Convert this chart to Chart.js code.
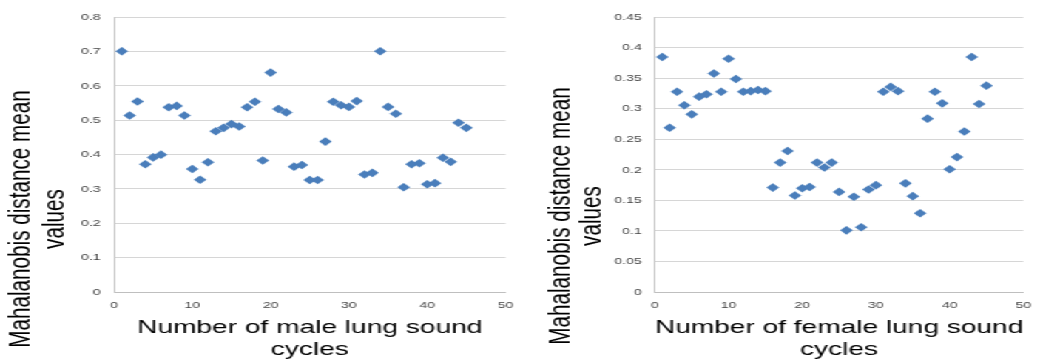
<!DOCTYPE html>
<html>
<head>
<meta charset="utf-8">
<script src="https://cdn.jsdelivr.net/npm/chart.js@4/dist/chart.umd.min.js"></script>
<style>
  html, body { margin: 0; padding: 0; background: #fff; }
  /* the reference picture is stretched sideways, so the charts are drawn narrow and stretched */
  #wrap { position: absolute; left: 0; top: 0; width: 705px; height: 363px;
          transform: scaleX(1.4794); transform-origin: 0 0; }
  #male { position: absolute; left: 0; top: 0; }
  #female { position: absolute; left: 355px; top: 0; }
</style>
</head>
<body>
<div id="wrap">
  <canvas id="male" width="355" height="363"></canvas>
  <canvas id="female" width="350" height="363"></canvas>
</div>
<script>
// data
const cycles = [1, 2, 3, 4, 5, 6, 7, 8, 9, 10, 11, 12, 13, 14, 15, 16, 17, 18, 19, 20,
    21, 22, 23, 24, 25, 26, 27, 28, 29, 30, 31, 32, 33, 34, 35, 36, 37, 38, 39, 40,
    41, 42, 43, 44, 45];

const maleValues = [0.701, 0.514, 0.555, 0.372, 0.392, 0.400, 0.538, 0.542, 0.514, 0.358,
    0.327, 0.378, 0.468, 0.478, 0.489, 0.482, 0.538, 0.554, 0.383, 0.639,
    0.533, 0.523, 0.365, 0.370, 0.326, 0.326, 0.438, 0.554, 0.544, 0.539,
    0.556, 0.342, 0.347, 0.701, 0.539, 0.519, 0.305, 0.372, 0.375, 0.314,
    0.317, 0.391, 0.379, 0.493, 0.478];

const femaleValues = [0.385, 0.269, 0.328, 0.306, 0.291, 0.320, 0.324, 0.358, 0.328, 0.382,
    0.349, 0.328, 0.329, 0.331, 0.329, 0.171, 0.212, 0.231, 0.158, 0.170,
    0.172, 0.212, 0.204, 0.212, 0.164, 0.101, 0.156, 0.106, 0.168, 0.175,
    0.328, 0.336, 0.329, 0.178, 0.157, 0.129, 0.284, 0.328, 0.309, 0.201,
    0.221, 0.263, 0.385, 0.308, 0.338];

const xTickLabels = ['0', '10', '20', '30', '40', '50'];
const maleYTicks = ['0', '0.1', '0.2', '0.3', '0.4', '0.5', '0.6', '0.7', '0.8'];
const femaleYTicks = ['0', '0.05', '0.1', '0.15', '0.2', '0.25', '0.3', '0.35', '0.4', '0.45'];

const yTitleLines = ['Mahalanobis distance mean', 'values'];
const maleXTitle = ['Number of male lung sound', 'cycles'];
const femaleXTitle = ['Number of female lung sound', 'cycles'];

const markerColor = '#4a7ebb';
const tickFont = { family: '"Liberation Sans", Arial, sans-serif', size: 9.5 };
const tickColor = '#444';

// rotated two-line y title, placed like the original (lower than the axis middle)
const yTitlePlugin = {
    id: 'yTitle',
    afterDraw(chart, args, opts) {
        const ctx = chart.ctx;
        ctx.save();
        ctx.translate(0, opts.center);
        ctx.rotate(-Math.PI / 2);
        ctx.font = '20.7px "Liberation Sans", Arial, sans-serif';
        ctx.fillStyle = '#000';
        ctx.textAlign = 'center';
        ctx.textBaseline = 'alphabetic';
        opts.lines.forEach((t, i) => ctx.fillText(t, 0, opts.baselines[i]));
        ctx.restore();
    }
};

function makeChart(id, values, yMax, yStep, yTicks, xTitle, plotLeft, padRight, titleBaselines, titleCenter) {
    return new Chart(document.getElementById(id), {
        type: 'scatter',
        data: {
            datasets: [{
                data: cycles.map((c, i) => ({ x: c, y: values[i] })),
                pointStyle: 'rectRot',
                pointRadius: 4.3,
                pointHoverRadius: 4.3,
                backgroundColor: markerColor,
                borderWidth: 0
            }]
        },
        options: {
            responsive: false,
            animation: false,
            layout: { padding: { left: 0, top: 17.3, right: padRight, bottom: 0 } },
            plugins: {
                legend: { display: false },
                tooltip: { enabled: false },
                yTitle: { lines: yTitleLines, baselines: titleBaselines, center: titleCenter }
            },
            scales: {
                x: {
                    type: 'linear',
                    min: 0,
                    max: 50,
                    ticks: {
                        stepSize: 10,
                        padding: 8,
                        maxRotation: 0,
                        font: tickFont,
                        color: tickColor,
                        callback: (v, i) => xTickLabels[i]
                    },
                    grid: { display: false, drawTicks: false },
                    border: { color: '#bfbfbf' },
                    title: {
                        display: true,
                        text: xTitle,
                        color: '#000',
                        font: { family: '"Liberation Sans", Arial, sans-serif', size: 19, lineHeight: 1.15 },
                        padding: { top: 0, bottom: 2 }
                    },
                    afterFit: s => { s.height = 71; }
                },
                y: {
                    min: 0,
                    max: yMax,
                    ticks: {
                        stepSize: yStep,
                        padding: 9,
                        font: tickFont,
                        color: tickColor,
                        callback: (v, i) => yTicks[i]
                    },
                    grid: { color: '#d6d6d6', drawTicks: false },
                    border: { color: '#bfbfbf' },
                    afterFit: s => { s.width = plotLeft; }
                }
            }
        },
        plugins: [yTitlePlugin]
    });
}

makeChart('male', maleValues, 0.8, 0.1, maleYTicks, maleXTitle, 77.06, 13.0, [19.7, 42.5], 219);
makeChart('female', femaleValues, 0.45, 0.05, femaleYTicks, femaleXTitle, 87.7, 5.4, [30, 50.5], 216);
</script>
</body>
</html>
